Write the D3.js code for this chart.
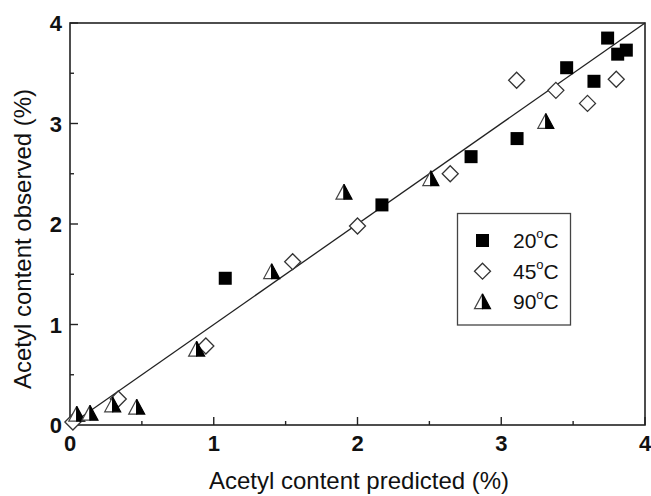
<!DOCTYPE html>
<html>
<head>
<meta charset="utf-8">
<script src="https://cdn.jsdelivr.net/npm/d3@7"></script>
<style>
  body { margin: 0; background: #fff; }
  svg { font-family: "Liberation Sans", Arial, sans-serif; }
  .tick-label { font-weight: bold; font-size: 22px; fill: #111; }
  .axis-title { font-size: 24px; fill: #111; }
  .legend-text { font-size: 21px; fill: #111; }
</style>
</head>
<body>
<svg id="chart" width="651" height="496"></svg>
<script>
// 20 °C (filled squares)
const x20 = [1.08, 2.17, 2.79, 3.11, 3.455, 3.645, 3.74, 3.81, 3.87];
const y20 = [1.46, 2.19, 2.67, 2.85, 3.555, 3.42, 3.85, 3.69, 3.73];
// 45 °C (open diamonds)
const x45 = [0.02, 0.336, 0.945, 1.549, 2.0, 2.645, 3.107, 3.38, 3.60, 3.80];
const y45 = [0.03, 0.259, 0.786, 1.625, 1.98, 2.50, 3.43, 3.33, 3.20, 3.44];
// 90 °C (half-filled triangles)
const x90 = [0.047, 0.139, 0.297, 0.464, 0.881, 1.403, 1.906, 2.51, 3.31];
const y90 = [0.106, 0.116, 0.199, 0.176, 0.753, 1.525, 2.315, 2.45, 3.02];

const ticks = [0, 1, 2, 3, 4];
const minorTicks = [0.5, 1.5, 2.5, 3.5];
const legendLabels = ['20', '45', '90'];

const svg = d3.select('#chart');
const L = 70, R = 645, T = 23, B = 425;

let x = d3.scaleLinear().domain([0, 4]).range([L, R]);
let y = d3.scaleLinear().domain([0, 4]).range([B, T]);

// frame
svg.append('rect')
  .attr('x', L).attr('y', T).attr('width', R - L).attr('height', B - T)
  .attr('fill', 'none').attr('stroke', '#222').attr('stroke-width', 1.6);

// ticks (inward)
const tk = svg.append('g').attr('stroke', '#222').attr('stroke-width', 1.4);
ticks.forEach(t => {
  tk.append('line').attr('x1', x(t)).attr('x2', x(t)).attr('y1', B).attr('y2', B - 8);
  tk.append('line').attr('x1', L).attr('x2', L + 8).attr('y1', y(t)).attr('y2', y(t));
});
minorTicks.forEach(t => {
  tk.append('line').attr('x1', x(t)).attr('x2', x(t)).attr('y1', B).attr('y2', B - 4);
  tk.append('line').attr('x1', L).attr('x2', L + 4).attr('y1', y(t)).attr('y2', y(t));
});

// tick labels
svg.selectAll('.xl').data(ticks).enter().append('text')
  .attr('class', 'tick-label')
  .attr('x', d => x(d)).attr('y', 451)
  .attr('text-anchor', 'middle')
  .text(d => d);
svg.selectAll('.yl').data(ticks).enter().append('text')
  .attr('class', 'tick-label')
  .attr('x', 62).attr('y', d => y(d) + 8)
  .attr('text-anchor', 'end')
  .text(d => d);

// axis titles
svg.append('text').attr('class', 'axis-title')
  .attr('x', 359).attr('y', 489).attr('text-anchor', 'middle')
  .text('Acetyl content predicted (%)');
svg.append('text').attr('class', 'axis-title')
  .attr('transform', 'translate(31,239) rotate(-90)')
  .attr('text-anchor', 'middle')
  .text('Acetyl content observed (%)');

// y = x line
svg.append('line')
  .attr('x1', x(0)).attr('y1', y(0)).attr('x2', x(4)).attr('y2', y(4))
  .attr('stroke', '#222').attr('stroke-width', 1.3);

// marker drawers
function square(g, cx, cy) {
  g.append('rect').attr('x', cx - 6.5).attr('y', cy - 6.5)
    .attr('width', 13).attr('height', 13).attr('fill', '#000');
}
function diamond(g, cx, cy) {
  const r = 8;
  g.append('path')
    .attr('d', `M${cx},${cy - r}L${cx + r},${cy}L${cx},${cy + r}L${cx - r},${cy}Z`)
    .attr('fill', '#fff').attr('stroke', '#333').attr('stroke-width', 1.3);
}
function triangle(g, cx, cy) {
  const w = 8, h = 8;
  g.append('path')
    .attr('d', `M${cx},${cy - h}L${cx},${cy + h * 0.85}L${cx - w},${cy + h * 0.85}Z`)
    .attr('fill', '#fff').attr('stroke', '#444').attr('stroke-width', 1.2);
  g.append('path')
    .attr('d', `M${cx},${cy - h}L${cx + w},${cy + h * 0.85}L${cx},${cy + h * 0.85}Z`)
    .attr('fill', '#000').attr('stroke', '#000').attr('stroke-width', 1.2);
}

const pts = svg.append('g');
x45.forEach((v, i) => diamond(pts, x(v), y(y45[i])));
x90.forEach((v, i) => triangle(pts, x(v), y(y90[i])));
x20.forEach((v, i) => square(pts, x(v), y(y20[i])));

// legend
const lg = svg.append('g');
lg.append('rect').attr('x', 457.5).attr('y', 213.5).attr('width', 113).attr('height', 111.5)
  .attr('fill', '#fff').attr('stroke', '#444').attr('stroke-width', 1.3);
const drawers = [square, diamond, triangle];
legendLabels.forEach((lab, i) => {
  const cy = 240.5 + i * 30.7;
  drawers[i](lg, 482.5, cy);
  const t = lg.append('text').attr('class', 'legend-text')
    .attr('x', 513).attr('y', cy + 7.5);
  t.append('tspan').text(lab);
  t.append('tspan').attr('dy', -10).style('font-size', '13px').text('o');
  t.append('tspan').attr('dy', 10).text('C');
});
</script>
</body>
</html>
